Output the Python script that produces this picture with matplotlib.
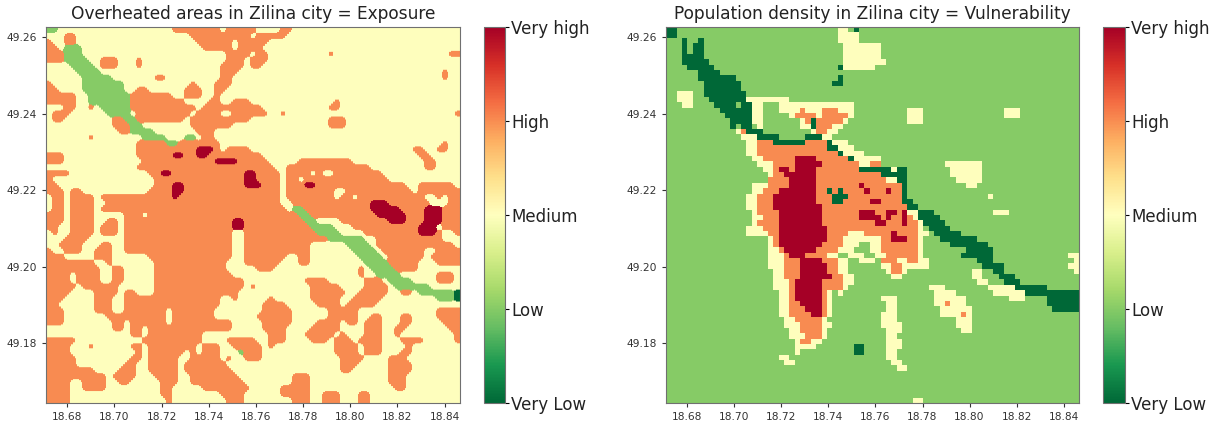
import re
import numpy as np
import matplotlib
matplotlib.use("Agg")
import matplotlib.pyplot as plt

# Class codes used in the raster rows below
class_values = {"d": 1, "g": 2, ".": 3, "o": 4, "R": 5}
class_levels = [1, 2, 3, 4, 5]
class_labels = ["Very Low", "Low", "Medium", "High", "Very high"]

lon_ticks = [18.68, 18.70, 18.72, 18.74, 18.76, 18.78, 18.80, 18.82, 18.84]
lat_ticks = [49.18, 49.20, 49.22, 49.24, 49.26]
map_extent = [18.671, 18.8465, 49.1644, 49.2626]

# Exposure raster, north row first, run-length coded (count + class)
exposure_rows = [
    "2g19.8o1.5o4.2o", "3.2o19.10o1.5o", "1o2.2o20.6o1.5o", "2o1.3g20.5o1.4o",
    "3o3g24.4o1.2o10.1o19.2o", "3o4g2.3o3.1o14.3o1.3o", "4.4g1.3o3.1o13.4o1.2o",
    "5.4g20.3o34.1o", "6.5g7.2o9.2o35.1o", "1o5.7g11.1o3.3o", "2o4.7g2.2o6.3o2.2o",
    "5o2.7g7o2.3o2.1o", "5o2.7g9o4.2o2.3o14.1o", "3.2o2.1o1.5g11o1.10o11.2o",
    "1.3o6.4g1.9o1.4o2.6o2.1o28.1o", "1.2o8.2o2g8o1.10o13.3o", "11.3o2g8.7o16.3o",
    "12.2o4g7.3o", "7.1o8.4g3.2g1.2o", "15.5o2g7o37.1o", "15.10o3R1o1.4o27.2o2.2o",
    "3o12.6o2R2o2R9o26.2o", "3o13.12o4R5o5.9o12.2o", "15.23o2.14o9.2o",
    "4o13.2o2R12o2R4o1.4o1.1o2.8o", "1o17.15o2R4o1.2o1.14o",
    "2o16.3o2R10o3R3o1.3o2R15o2.6o", "3o1.2o11.4o2R16o1.8o2.11o1.7o",
    "1.2o1.4o1.12o1R17o1.8o1.2o1.11o2.1o1.2o", "1.2o1.4o2.29o2.13o3R7o3.2o",
    "1.2o1.4o1.31o1.2g11o5R4o3R3o", "3o1.4o5.3o1.25o2g11o5R3o3R3o",
    "3o1.4o2.2o1.18o2R10o2g4.8o3R3o3R3o", "2o2.4o1.3o1.18o2R11o4g3.11o3R1.3o",
    "1.1o2.4o1.3o1.18o2.12o4g4.9o3R1o2.1o", "3.4o6.18o2.14o6g2.11o",
    "2.4o3.2o2.18o2.11o6.4g1.13o", "1o2.3o2.3o2.18o2.11o7.4g1.7o2.4o",
    "3o5.3o6.14o2.7o2.2o8.4g1.6o1.5o", "8o2.1o7.12o3.6o3.2o9.4g5o3.4o",
    "9o2.2o5.12o5.3o14.1o1.4g4o", "4o1.4o2.2o5.13o21.1o2.4g6.3o",
    "4o1.4o2.2o5.15o10.4o6.3o1.4g4.3o", "5o1.6o6.15o1.1o9.5o4.4o1.6g",
    "4o4.4o1.2o3.14o12.6o2.5o2.2o1.6g1d", "3o5.3o2.16o2.1o5.1o6.5o2.5o9.3g1d",
    "2o6.3o2.16o7.4o5.4o1.5o", "3o5.3o2.7o1.7o8.5o6.5o13.4o",
    "3o7.10o1.7o7.6o6.5o2.2o3.2o4.4o", "3o8.2o1.6o1.10o5.5o4.4o1.2o1.3o3.2o5.3o",
    "11.2o1.2o1.14o5.4o4.5o4.3o2.2o7.2o", "14.2o1.9o11.3o3.5o1.1o3.3o2.1o9.1o",
    "5o11.10o4.5o2.3o4.3o1.3o1.4o3.4o5.1o", "4o3.1o6.2o1.8o1.3o2.5o1.1o10.4o1.3o4.1o",
    "4o11.1o1.6o1.1o1.3o3.1g3o12.4o1.3o3.2o", "5o9.2o1.5o2.5o1.1o2.3o13.4o4.3o",
    "5o8.2o2.5o1.7o19.3o5.4o", "8o4.3o2.5o1.8o18.2o6.4o", "10o1.4o3.4o2.8o9.3o13.3o",
    "4o2.4o2.2o5.3o2.9o8.3o13.3o", "4o2.4o9.2o5.8o5.5o14.2o", "4o15.2o8.4o6.5o2.3o3.2o",
    "4o16.1o9.3o8.3o2.3o3.2o",
]

# Vulnerability raster, same coding
vulnerability_rows = [
    "2d30g2.1g1d", "2d30g4.", "3g1d2g1d25g4.", "3g1d1g2d26g7.", "3g1d1g2d26g7.",
    "3g4d26g7.", "3g5d25g8.", "4g5d23g1d6.", "6g4d", "6g7d19g1d", "7g7d17g2d", "7g7d",
    "2g3.2g8d", "2g3.3g7d8.", "3g2.4g4d1g2d2.3g14.", "10g6d2.3g4.1o3.3o3.10g3.15g3.",
    "11g5d2.5g1.4o1.5o1.10g3.15g3.", "12g4d2.7g1.1o1d5o1.11g3.", "12g1d1g2d1g1.7g2.1d3o2.",
    "13g1.1o3d9g1.2o2.", "14g3.4d5g3d2.", "15g2.3o6d4o1d3.", "15g2.13o2d3.", "15g2.15o1d4.",
    "16g2.6o4R6o1d5.", "17g3.4o5R7o2.2o12g7.", "18g2.1o2R1o4R8o6d1.2d8g6.",
    "19g1.2o6R12o2d3d8g6.", "19g4o5R13o2.2d9g5.", "16g3.4o5R8o1R7o1d11g2.",
    "16g2.3o7R2o1d1o1d4o1R3o1R2o1d", "15g2.3o8R3o3d10o1d15g1.", "15g2.3o8R3o2d5o2R4o2d",
    "15g2.3o9R16o2d", "16g1.4o8R7o3R2o2R1o1R2.3d11g3.", "16g2.3o8R7o4R1o1R2o1R1o1.4d",
    "16g1.4o8R10o2R3o1R2o1.4d", "15g3.3o9R17o1.1g4d", "15g4.2o9R4o3.5o1R4o2.1g5d",
    "19g1.1o9R3o7.2o3R2o1.3g7d", "19g1.1o8R4o3.2g2.7o1.5g7d", "19g2.1o6R4o3.3g2.7o1.8g5d",
    "19g3.1o3R4o2.2g3.2g2.6o1.7g6d14g2.", "19g3.3o4R3o2.2g3.1g3o2.2o2.9g3d15g1.",
    "19g3.3o5R2o2.6g2.2o5.10g4d12g2.", "20g2.3o5R2o2.7g1.2o1.12g2.2g2d13g1.",
    "20g2.3o6R2o2.7g2.13g2.3g3d", "20g3.1o5R4o2.23g2.3g3d", "20g3.1o5R4o1.15g3.8g5.6d",
    "21g2.1o5R1o1.1g1.17g4.7g6.10d", "21g2.1o5R1o1.9g3.7g6.8g3.4g6d",
    "21g2.2o4R1o1.10g2.7g2.1o3.15g6d", "21g2.3o3R1o1.10g2.8g6.15g5d",
    "21g2.4o2R1o1.9g3.8g4.1o1.", "22g2.5o1.10g3.11g3.", "22g3.4o2.9g4.10g3.",
    "23g2.4o1.11g3.11g2.", "23g3.3o1.11g2.", "24g1.2o2.12g3.", "24g4.7g2d4g3.",
    "24g1.10g2d4g2.", "21g2.18g2.", "22g2.18g2.", "43g2.", "", "", "", "", "", "46g2.",
]


def decode(rows, n_cols, fill):
    grid = np.full((len(rows), n_cols), class_values[fill])
    for i, row in enumerate(rows):
        col = 0
        for count, code in re.findall(r"(\d+)([dg.oR])", row):
            grid[i, col:col + int(count)] = class_values[code]
            col += int(count)
    return grid


def round_classes(grid, scale=6, width=7):
    # Rounds the blocky class edges: blur each class mask, keep the strongest class per pixel
    kernel = np.ones(width) / width
    scores = []
    for level in class_levels:
        mask = np.kron(grid == level, np.ones((scale, scale)))
        pad = np.pad(mask, width, mode="edge")
        pad = np.apply_along_axis(np.convolve, 0, pad, kernel, mode="same")
        pad = np.apply_along_axis(np.convolve, 1, pad, kernel, mode="same")
        scores.append(pad[width:-width, width:-width])
    return np.array(class_levels)[np.argmax(scores, axis=0)]


exposure = decode(exposure_rows, 69, ".")
vulnerability = decode(vulnerability_rows, 77, "g")

cmap = plt.get_cmap("RdYlGn_r")
norm = matplotlib.colors.Normalize(vmin=1, vmax=5)

W, H = 1211, 424
fig = plt.figure(figsize=(W / 100, H / 100), dpi=100)


def px_axes(x, y, w, h):
    # axes rectangle given in picture pixels
    return fig.add_axes([x / W, 1 - (y + h) / H, w / W, h / H])


ax1 = px_axes(46, 27, 414, 376)
ax2 = px_axes(666, 27, 413, 376)
cax1 = px_axes(484, 27, 21, 376)
cax2 = px_axes(1103, 27, 22, 376)

# Exposure is smooth in the original, vulnerability keeps its coarse blocks
ax1.imshow(round_classes(exposure), extent=map_extent, cmap=cmap, norm=norm, aspect="auto",
           interpolation="bilinear")
ax2.imshow(vulnerability, extent=map_extent, cmap=cmap, norm=norm, aspect="auto",
           interpolation="nearest")

titles = ["Overheated areas in Zilina city = Exposure",
          "Population density in Zilina city = Vulnerability"]
for ax, title in zip([ax1, ax2], titles):
    ax.set_xlim(map_extent[0], map_extent[1])
    ax.set_ylim(map_extent[2], map_extent[3])
    ax.set_xticks(lon_ticks)
    ax.set_xticklabels(["%.2f" % t for t in lon_ticks])
    ax.set_yticks(lat_ticks)
    ax.set_yticklabels(["%.2f" % t for t in lat_ticks])
    ax.tick_params(labelsize=7.7, colors="#333333", length=3)
    ax.set_title(title, fontsize=12.25, color="#222222", pad=6)
    for spine in ax.spines.values():
        spine.set_color("#707070")

for cax in [cax1, cax2]:
    sm = plt.cm.ScalarMappable(norm=norm, cmap=cmap)
    cb = fig.colorbar(sm, cax=cax, ticks=class_levels)
    cb.ax.set_yticklabels(class_labels)
    cb.ax.tick_params(labelsize=12, labelcolor="#222222", length=3, pad=1.5)
    cb.outline.set_edgecolor("#707070")

fig.savefig("out.png", dpi=100)
